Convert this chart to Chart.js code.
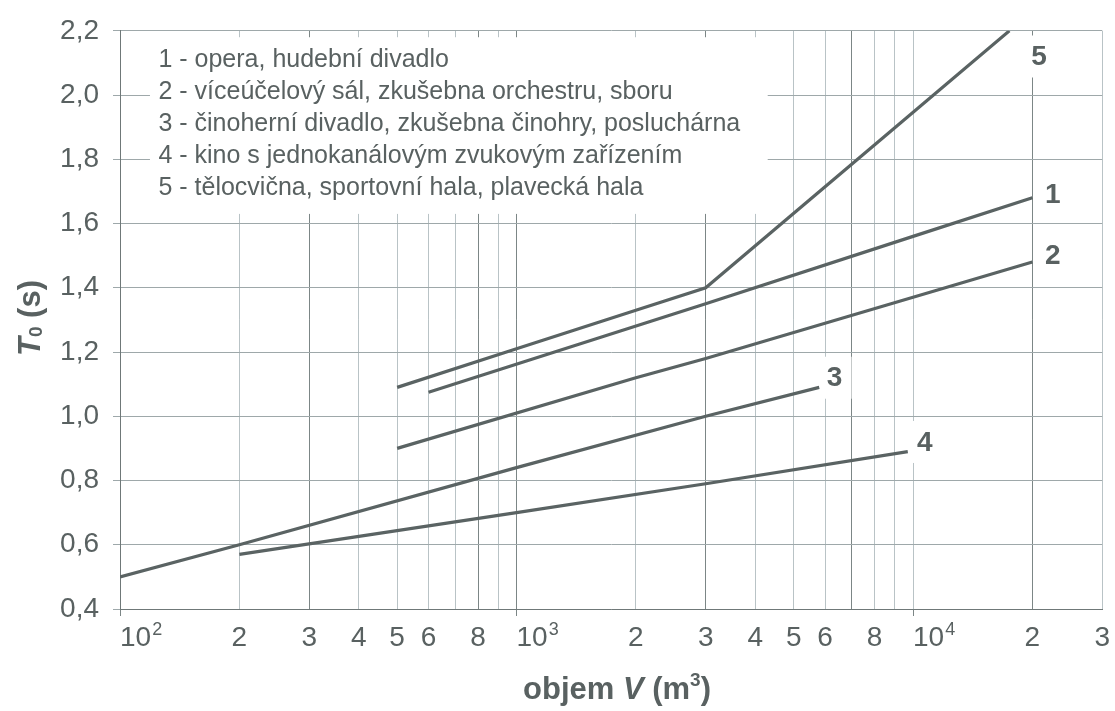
<!DOCTYPE html>
<html>
<head>
<meta charset="utf-8">
<script src="https://cdn.jsdelivr.net/npm/chart.js@4.4.0/dist/chart.umd.min.js"></script>
<style>
  html, body { margin: 0; padding: 0; background: #fff; }
</style>
</head>
<body>
<canvas id="chart" width="1115" height="711"></canvas>
<script>
// volumes (m3) and reverberation times (s)
const volume1 = [600, 3000, 10000, 20000];
const time1 = [1.075, 1.35, 1.56, 1.68];
const volume2 = [500, 2000, 3000, 20000];
const time2 = [0.90, 1.12, 1.18, 1.48];
const volume3 = [100, 200, 1000, 3000, 5800];
const time3 = [0.50, 0.60, 0.84, 1.00, 1.09];
const volume4 = [200, 1000, 3000, 9700];
const time4 = [0.57, 0.70, 0.79, 0.89];
const volume5 = [500, 1000, 2000, 3000, 17500];
const time5 = [1.09, 1.21, 1.33, 1.40, 2.20];

const curveNames = ['1', '2', '3', '4', '5'];
const legendLines = [
  '1 - opera, hudební divadlo',
  '2 - víceúčelový sál, zkušebna orchestru, sboru',
  '3 - činoherní divadlo, zkušebna činohry, posluchárna',
  '4 - kino s jednokanálovým zvukovým zařízením',
  '5 - tělocvična, sportovní hala, plavecká hala'
];
const xTickValues = [100, 200, 300, 400, 500, 600, 700, 800, 900,
  1000, 2000, 3000, 4000, 5000, 6000, 7000, 8000, 9000, 10000, 20000, 30000];
const decades = [100, 1000, 10000];

const FONT = "'Liberation Sans', Arial, sans-serif";
const TEXT = '#596161';
const LINE = '#5a6363';
const TICK_SIZE = 28;

const toPoints = (xs, ys) => xs.map((v, i) => ({ x: v, y: ys[i] }));
const series = [
  toPoints(volume1, time1),
  toPoints(volume2, time2),
  toPoints(volume3, time3),
  toPoints(volume4, time4),
  toPoints(volume5, time5)
];

// where the curve numbers sit (data units)
const nameAnchors = [[22500, 1.69], [22500, 1.50], [6340, 1.12], [10700, 0.92], [20800, 2.12]];
const darkVerticals = [300, 800, 1000, 3000, 7000, 20000];

const overlay = {
  id: 'overlay',
  beforeDatasetsDraw(chart) {
    const ctx = chart.ctx, xs = chart.scales.x, ys = chart.scales.y;
    ctx.save();
    ctx.fillStyle = '#fff';
    const bx = xs.getPixelForValue(119), bx2 = xs.getPixelForValue(4300);
    const by = ys.getPixelForValue(2.18), by2 = ys.getPixelForValue(1.63);
    ctx.fillRect(bx, by, bx2 - bx, by2 - by);
    ctx.fillStyle = TEXT;
    ctx.font = '25px ' + FONT;
    ctx.textBaseline = 'middle';
    ctx.textAlign = 'left';
    legendLines.forEach((t, i) => {
      ctx.fillText(t, xs.getPixelForValue(125), ys.getPixelForValue(2.1 - i * 0.1) - 3);
    });
    nameAnchors.forEach((a, i) => {
      const px = xs.getPixelForValue(a[0]), py = ys.getPixelForValue(a[1]);
      ctx.fillStyle = '#fff';
      ctx.fillRect(px - 17, py - 21, 34, 42);
      ctx.fillStyle = TEXT;
      ctx.font = 'bold 28px ' + FONT;
      ctx.textAlign = 'center';
      ctx.fillText(curveNames[i], px, py + 1);
    });
    ctx.restore();
  },
  afterDraw(chart) {
    const ctx = chart.ctx, xs = chart.scales.x;
    // exponents of the decade tick labels
    ctx.save();
    ctx.fillStyle = TEXT;
    ctx.textAlign = 'left';
    ctx.textBaseline = 'alphabetic';
    ctx.font = TICK_SIZE + 'px ' + FONT;
    const w10 = ctx.measureText('10').width;
    ctx.font = '18px ' + FONT;
    decades.forEach(v => {
      const px = xs.getPixelForValue(v);
      ctx.fillText(String(Math.round(Math.log10(v))), px + w10 + 1, xs.top + 26);
    });
    ctx.restore();

    const drawParts = (parts) => {
      let w = 0;
      parts.forEach(p => { ctx.font = p[1]; w += ctx.measureText(p[0]).width; });
      let cx = -w / 2;
      parts.forEach(p => {
        ctx.font = p[1];
        ctx.fillText(p[0], cx, p[2]);
        cx += ctx.measureText(p[0]).width;
      });
    };
    ctx.save();
    ctx.fillStyle = TEXT;
    ctx.textBaseline = 'alphabetic';
    ctx.textAlign = 'left';
    // x title
    ctx.translate(617, 699);
    drawParts([
      ['objem ', 'bold 31px ' + FONT, 0],
      ['V', 'italic bold 31px ' + FONT, 0],
      [' (m', 'bold 31px ' + FONT, 0],
      ['3', 'bold 19px ' + FONT, -13],
      [')', 'bold 31px ' + FONT, 0]
    ]);
    ctx.restore();
    ctx.save();
    ctx.fillStyle = TEXT;
    ctx.textBaseline = 'alphabetic';
    ctx.translate(40, 318);
    ctx.rotate(-Math.PI / 2);
    drawParts([
      ['T', 'italic bold 31px ' + FONT, 0],
      ['0', 'bold 19px ' + FONT, 2],
      [' (s)', 'bold 31px ' + FONT, 0]
    ]);
    ctx.restore();
  }
};

new Chart(document.getElementById('chart'), {
  type: 'line',
  data: {
    datasets: series.map((pts, i) => ({
      label: curveNames[i],
      data: pts,
      borderColor: LINE,
      borderWidth: 3.2,
      pointRadius: 0,
      tension: 0,
      fill: false
    }))
  },
  options: {
    responsive: false,
    animation: false,
    devicePixelRatio: 1,
    layout: { padding: { left: 0, right: 7, top: 28, bottom: 0 } },
    plugins: { legend: { display: false }, tooltip: { enabled: false } },
    scales: {
      x: {
        type: 'logarithmic',
        min: 100,
        max: 30000,
        afterBuildTicks: s => { s.ticks = xTickValues.map(v => ({ value: v })); },
        afterFit: s => { s.height = 102; },
        border: { display: true, color: '#6f7878', width: 1 },
        grid: {
          color: c => darkVerticals.includes(c.tick && c.tick.value) ? '#7c8686' : '#b9c3c6',
          lineWidth: 1,
          tickLength: 7,
          tickColor: c => decades.includes(c.tick && c.tick.value) ? '#7c8686' : 'rgba(0,0,0,0)'
        },
        ticks: {
          autoSkip: false,
          maxRotation: 0,
          padding: 5,
          color: TEXT,
          font: { family: FONT, size: TICK_SIZE },
          callback: function (v) {
            const e = Math.floor(Math.log10(v) + 1e-9);
            const m = Math.round(v / Math.pow(10, e));
            if (m === 1) return '    10';
            if (m === 7 || m === 9) return '';
            return String(m);
          }
        }
      },
      y: {
        min: 0.4,
        max: 2.2,
        afterFit: s => { s.width = 120; },
        border: { display: true, color: '#6f7878', width: 1 },
        grid: {
          color: '#9ea8aa',
          lineWidth: 1,
          tickLength: 7,
          tickColor: '#9ea8aa'
        },
        ticks: {
          stepSize: 0.1,
          padding: 14,
          color: TEXT,
          font: { family: FONT, size: TICK_SIZE },
          callback: v => Math.round(v * 10) % 2 === 0 ? v.toFixed(1).replace('.', ',') : ''
        }
      }
    }
  },
  plugins: [overlay]
});
</script>
</body>
</html>
